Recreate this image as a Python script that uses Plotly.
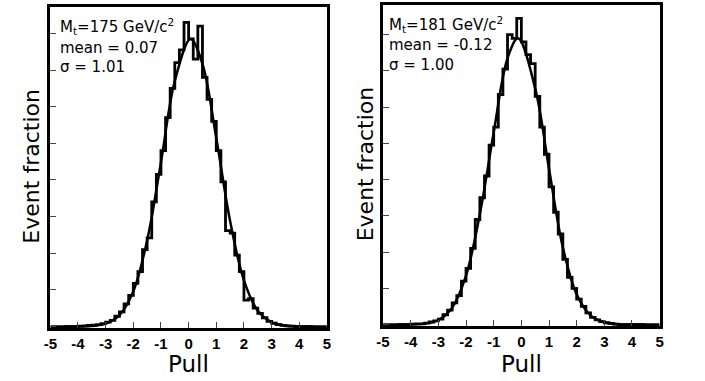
import numpy as np
import plotly.graph_objects as go

# ---------------- data (event fraction, arbitrary units; 1 unit = 1 y-tick) -------------
bin_lo, bin_hi, n_bins = -5.0, 5.0, 60   # histogram binning of the pull

hist_175 = [0, 0, 0, 0,
            0.0, 0.0, 0.01, 0.02, 0.03, 0.04, 0.05, 0.08, 0.12, 0.17,
            0.28, 0.40, 0.62, 0.85, 1.18, 1.50, 2.10, 2.42, 3.40, 4.15,
            4.80, 5.70, 6.50, 7.20, 7.55, 8.30, 7.85, 7.30, 8.20, 6.80,
            6.20, 5.60, 4.80, 3.95, 2.62, 2.55, 1.95, 1.50, 0.72, 0.76,
            0.50, 0.36, 0.24, 0.14, 0.09, 0.05, 0.03, 0.02, 0.01, 0.0,
            0.0, 0, 0, 0, 0, 0]

hist_181 = [0, 0, 0, 0,
            0.0, 0.0, 0.01, 0.02, 0.02, 0.04, 0.07, 0.10, 0.15, 0.27,
            0.40, 0.60, 0.80, 1.20, 1.55, 2.10, 2.90, 3.50, 4.10, 4.95,
            5.45, 6.35, 7.05, 8.00, 7.90, 8.45, 7.80, 7.45, 7.20, 6.30,
            5.45, 4.70, 3.80, 3.10, 2.50, 1.80, 1.30, 1.00, 0.70, 0.50,
            0.32, 0.20, 0.13, 0.08, 0.05, 0.03, 0.01, 0.0, 0.0, 0.0,
            0.0, 0, 0, 0, 0, 0]

fit_x_175 = [-4.5, -4, -3.5, -3, -2.5, -2, -1.5, -1, -0.5, 0.07, 0.5, 1, 1.5, 2, 2.5, 3, 3.5, 4, 4.5]
fit_y_175 = [0.0, 0.002, 0.015, 0.078, 0.31, 0.96, 2.35, 4.48, 6.70, 7.85, 7.17, 5.14, 2.88, 1.26, 0.43, 0.12, 0.024, 0.004, 0.0]

fit_x_181 = [-4.5, -4, -3.5, -3, -2.5, -2, -1.5, -1, -0.5, -0.12, 0.5, 1, 1.5, 2, 2.5, 3, 3.5, 4, 4.5]
fit_y_181 = [0.0, 0.004, 0.026, 0.125, 0.465, 1.35, 3.05, 5.30, 7.35, 7.90, 6.52, 4.30, 2.13, 0.835, 0.255, 0.061, 0.011, 0.002, 0.0]

labels_175 = ["M<sub>t</sub>=175 GeV/c<sup>2</sup>", "mean = 0.07", "σ = 1.01"]
labels_181 = ["M<sub>t</sub>=181 GeV/c<sup>2</sup>", "mean = -0.12", "σ = 1.00"]

x_tickvals = [-5, -4, -3, -2, -1, 0, 1, 2, 3, 4, 5]
x_ticktext = ["-5", "-4", "-3", "-2", "-1", "0", "1", "2", "3", "4", "5"]

# ---------------- figure ----------------
W, H = 705, 381
edges = np.linspace(bin_lo, bin_hi, n_bins + 1)

def step_xy(vals):
    xs = list(edges)
    ys = list(vals) + [vals[-1]]
    return xs, ys

fig = go.Figure()

panels = [
    dict(hist=hist_175, fx=fit_x_175, fy=fit_y_175, labels=labels_175,
         xa="x", ya="y", px=(44, 325), py=(7, 328), ymax=8.72,
         lab_x=52, lab_y=[26, 48, 67], ytitle_x=24, ytitle_y=166),
    dict(hist=hist_181, fx=fit_x_181, fy=fit_y_181, labels=labels_181,
         xa="x2", ya="y2", px=(382, 663), py=(5, 326), ymax=8.82,
         lab_x=386, lab_y=[24, 45, 65], ytitle_x=364, ytitle_y=164),
]

ann = []
for i, p in enumerate(panels):
    hx, hy = step_xy(p["hist"])
    fig.add_trace(go.Scatter(x=hx, y=hy, mode="lines", line=dict(color="black", width=2.8, shape="hv"),
                             xaxis=p["xa"], yaxis=p["ya"], showlegend=False, hoverinfo="skip"))
    fig.add_trace(go.Scatter(x=p["fx"], y=p["fy"], mode="lines",
                             line=dict(color="black", width=2.5, shape="spline", smoothing=1.0),
                             xaxis=p["xa"], yaxis=p["ya"], showlegend=False, hoverinfo="skip"))
    sfx = "" if i == 0 else "2"
    xdom = [p["px"][0] / W, p["px"][1] / W]
    ydom = [1 - p["py"][1] / H, 1 - p["py"][0] / H]
    fig.layout["xaxis" + sfx] = dict(
        domain=xdom, range=[-5, 5], anchor="y" + sfx,
        tickmode="array", tickvals=x_tickvals, ticktext=x_ticktext,
        ticks="inside", ticklen=6, tickwidth=1, tickcolor="#444",
        tickfont=dict(family="Liberation Sans", size=15, color="black", weight=700),
        showline=True, linewidth=3, linecolor="black", mirror=True,
        showgrid=False, zeroline=False, fixedrange=True,
    )
    fig.layout["yaxis" + sfx] = dict(
        domain=ydom, range=[-0.04, p["ymax"]], anchor="x" + sfx,
        tickmode="linear", tick0=0, dtick=1, showticklabels=False,
        ticks="inside", ticklen=6, tickwidth=1, tickcolor="#444",
        showline=True, linewidth=3, linecolor="black", mirror=True,
        showgrid=False, zeroline=False, fixedrange=True,
    )
    for txt, yy in zip(p["labels"], p["lab_y"]):
        ann.append(dict(text=txt, xref="paper", yref="paper", x=p["lab_x"] / W, y=1 - yy / H,
                        xanchor="left", yanchor="middle", showarrow=False,
                        font=dict(family="DejaVu Sans", size=15, color="black")))
    # axis titles
    xc = (p["px"][0] + p["px"][1]) / 2
    ann.append(dict(text="Pull", xref="paper", yref="paper", x=xc / W, y=1 - 364 / H,
                    xanchor="center", yanchor="middle", showarrow=False,
                    font=dict(family="DejaVu Sans", size=23, color="black")))
    ann.append(dict(text="Event fraction", xref="paper", yref="paper", x=p["ytitle_x"] / W,
                    y=1 - p["ytitle_y"] / H, xanchor="center", yanchor="middle", textangle=-90,
                    showarrow=False, font=dict(family="DejaVu Sans", size=22, color="black")))

fig.update_layout(
    width=W, height=H, margin=dict(l=0, r=0, t=0, b=0),
    paper_bgcolor="white", plot_bgcolor="white",
    annotations=ann,
)

fig.write_html("out.html", config={"displayModeBar": False})
